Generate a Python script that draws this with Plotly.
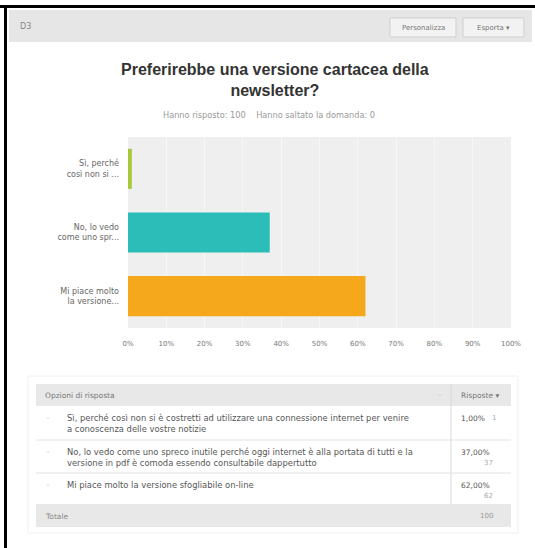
import plotly.graph_objects as go

# ---- data ----
question_id = "D3"
title_lines = ["Preferirebbe una versione cartacea della", "newsletter?"]
answered = 100
skipped = 0
short_labels = ["Sì, perché<br>così non si ...", "No, lo vedo<br>come uno spr...", "Mi piace molto<br>la versione..."]
full_labels = [
    "Sì, perché così non si è costretti ad utilizzare una connessione internet per venire<br>a conoscenza delle vostre notizie",
    "No, lo vedo come uno spreco inutile perché oggi internet è alla portata di tutti e la<br>versione in pdf è comoda essendo consultabile dappertutto",
    "Mi piace molto la versione sfogliabile on-line",
]
percents = [1.0, 37.0, 62.0]
counts = [1, 37, 62]
total = 100
bar_colors = ["#a8c83c", "#2dbdb9", "#f5a81c"]
tick_vals = [0, 10, 20, 30, 40, 50, 60, 70, 80, 90, 100]
tick_text = ["0%", "10%", "20%", "30%", "40%", "50%", "60%", "70%", "80%", "90%", "100%"]

# ---- geometry helpers ----
W, H = 535, 548
L, R, T, B = 128, 24, 137, 220
pw, ph = W - L - R, H - T - B


def px(x):
    return (x - L) / pw


def py(y):
    return 1 - (y - T) / ph


FONT = "Liberation Sans"
SFONT = "DejaVu Sans"
fig = go.Figure()
fig.add_trace(go.Bar(
    x=percents, y=short_labels, orientation="h",
    marker=dict(color=bar_colors, line=dict(width=0)),
    width=0.63, hoverinfo="skip",
))

shapes = []
annots = []

# outer black frame (top + left)
shapes.append(dict(type="rect", xref="paper", yref="paper", x0=px(0), x1=px(W), y0=py(5), y1=py(8),
                   fillcolor="black", line=dict(width=0), layer="above"))
shapes.append(dict(type="rect", xref="paper", yref="paper", x0=px(4), x1=px(7), y0=py(5), y1=py(H),
                   fillcolor="black", line=dict(width=0), layer="above"))

# top gray header bar
shapes.append(dict(type="rect", xref="paper", yref="paper", x0=px(9), x1=px(532), y0=py(10), y1=py(42),
                   fillcolor="#e6e6e6", line=dict(width=0), layer="below"))
annots.append(dict(x=px(18), y=py(26), xref="paper", yref="paper", text=question_id, showarrow=False,
                   xanchor="left", yanchor="middle", font=dict(family=SFONT, size=8, color="#888")))
# buttons
for x0, x1, label in [(390, 456, "Personalizza"), (463, 524, "Esporta ▾")]:
    shapes.append(dict(type="rect", xref="paper", yref="paper", x0=px(x0), x1=px(x1), y0=py(18), y1=py(37),
                       fillcolor="#f2f2f2", line=dict(width=1, color="#cfcfcf"), layer="below"))
    annots.append(dict(x=px((x0 + x1) / 2), y=py(27.5), xref="paper", yref="paper", text=label, showarrow=False,
                       xanchor="center", yanchor="middle", font=dict(family=SFONT, size=7, color="#777")))

# title and subtitle
annots.append(dict(x=px(275), y=py(80), xref="paper", yref="paper",
                   text="<b>" + "<br>".join(title_lines) + "</b>", showarrow=False,
                   xanchor="center", yanchor="middle", align="center",
                   font=dict(family=FONT, size=16, color="#333")))
annots.append(dict(x=px(269), y=py(115), xref="paper", yref="paper",
                   text=f"Hanno risposto: {answered}    Hanno saltato la domanda: {skipped}", showarrow=False,
                   xanchor="center", yanchor="middle", font=dict(family=SFONT, size=8.2, color="#999")))

# ---- table ----
tx0, tx1 = 36, 511
div_x = 451
shapes.append(dict(type="rect", xref="paper", yref="paper", x0=px(28), x1=px(518), y0=py(376), y1=py(533),
                   fillcolor="rgba(0,0,0,0)", line=dict(width=1, color="#f0f0f0"), layer="below"))
shapes.append(dict(type="rect", xref="paper", yref="paper", x0=px(tx0), x1=px(tx1), y0=py(384), y1=py(406),
                   fillcolor="#e8e8e8", line=dict(width=0), layer="below"))
shapes.append(dict(type="line", xref="paper", yref="paper", x0=px(div_x), x1=px(div_x), y0=py(384), y1=py(504),
                   line=dict(width=1, color="#d8d8d8"), layer="below"))
annots.append(dict(x=px(43), y=py(395), xref="paper", yref="paper", text="Opzioni di risposta", showarrow=False,
                   xanchor="left", yanchor="middle", font=dict(family=SFONT, size=7.5, color="#777")))
annots.append(dict(x=px(440), y=py(395), xref="paper", yref="paper", text="–", showarrow=False,
                   xanchor="center", yanchor="middle", font=dict(family=SFONT, size=7, color="#bbb")))
annots.append(dict(x=px(459), y=py(395), xref="paper", yref="paper", text="Risposte ▾", showarrow=False,
                   xanchor="left", yanchor="middle", font=dict(family=SFONT, size=7.5, color="#777")))

row_tops = [406, 440, 473]
row_bots = [440, 473, 504]
for i in range(3):
    top = row_tops[i]
    if i < 2:
        shapes.append(dict(type="line", xref="paper", yref="paper", x0=px(tx0), x1=px(tx1),
                           y0=py(row_bots[i]), y1=py(row_bots[i]), line=dict(width=1, color="#e2e2e2"),
                           layer="below"))
    annots.append(dict(x=px(48), y=py(top + 12), xref="paper", yref="paper", text="–", showarrow=False,
                       xanchor="center", yanchor="middle", font=dict(family=SFONT, size=7, color="#bbb")))
    annots.append(dict(x=px(65), y=py(top + 5), xref="paper", yref="paper", text=full_labels[i],
                       showarrow=False, xanchor="left", yanchor="top", align="left",
                       font=dict(family=SFONT, size=8.4, color="#555")))
    pct_txt = f"{percents[i]:.2f}%".replace(".", ",")
    annots.append(dict(x=px(459), y=py(top + 12), xref="paper", yref="paper", text=pct_txt,
                       showarrow=False, xanchor="left", yanchor="middle",
                       font=dict(family=SFONT, size=7.5, color="#555")))
    if i == 0:
        annots.append(dict(x=px(498), y=py(top + 12), xref="paper", yref="paper", text=str(counts[i]),
                           showarrow=False, xanchor="right", yanchor="middle",
                           font=dict(family=SFONT, size=7, color="#aaa")))
    else:
        annots.append(dict(x=px(495), y=py(top + 23), xref="paper", yref="paper", text=str(counts[i]),
                           showarrow=False, xanchor="right", yanchor="middle",
                           font=dict(family=SFONT, size=7, color="#aaa")))

shapes.append(dict(type="rect", xref="paper", yref="paper", x0=px(tx0), x1=px(tx1), y0=py(504), y1=py(527),
                   fillcolor="#e8e8e8", line=dict(width=0), layer="below"))
annots.append(dict(x=px(43), y=py(516), xref="paper", yref="paper", text="Totale", showarrow=False,
                   xanchor="left", yanchor="middle", font=dict(family=SFONT, size=7.5, color="#888")))
annots.append(dict(x=px(495), y=py(516), xref="paper", yref="paper", text=str(total), showarrow=False,
                   xanchor="right", yanchor="middle", font=dict(family=SFONT, size=7, color="#999")))

fig.update_layout(
    width=W, height=H,
    margin=dict(l=L, r=R, t=T, b=B, pad=0),
    paper_bgcolor="white", plot_bgcolor="#efefef",
    showlegend=False,
    bargap=0.37,
    font=dict(family=SFONT, size=7, color="#666"),
    xaxis=dict(range=[0, 100], tickvals=tick_vals, ticktext=tick_text, showgrid=True,
               gridcolor="#f7f7f7", gridwidth=1, zeroline=False, showline=False,
               tickfont=dict(family=SFONT, size=7, color="#777"), ticklabelstandoff=10, fixedrange=True),
    yaxis=dict(autorange="reversed", showgrid=False, zeroline=False, showline=False,
               tickfont=dict(family=SFONT, size=8, color="#666"), ticklabelstandoff=8, fixedrange=True),
    shapes=shapes,
    annotations=annots,
)

fig.write_html("out.html", config={"displayModeBar": False},
               post_script="document.body.style.margin='0px';document.body.style.overflow='hidden';")
